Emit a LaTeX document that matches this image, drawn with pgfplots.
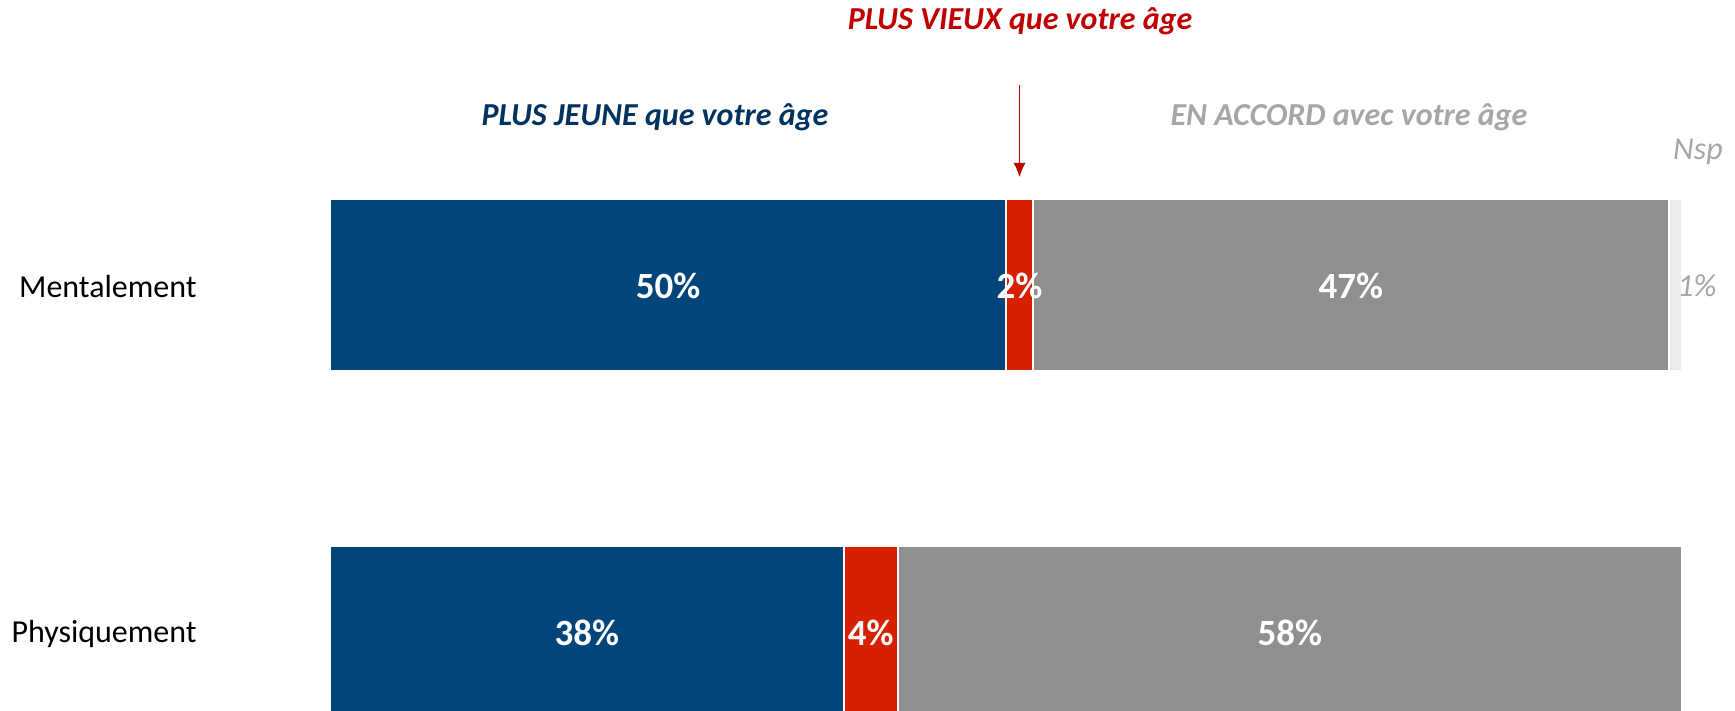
\documentclass[border=0pt]{standalone}
\usepackage{pgfplots}
\pgfplotsset{compat=1.18}
\usetikzlibrary{arrows.meta}
\usepackage{fontspec}
\setmainfont{Carlito}
\definecolor{cblue}{HTML}{02457A}
\definecolor{cred}{HTML}{D62000}
\definecolor{cgray}{HTML}{8F8F8F}
\definecolor{cnsp}{HTML}{EBEBEB}
\definecolor{tred}{HTML}{C00000}
\definecolor{tblue}{HTML}{00335F}
\definecolor{tgray}{HTML}{A6A6A6}
\pgfplotsset{
  common/.style={
    scale only axis, width=867.5pt, height=355.5pt,
    xmin=-24.408, xmax=103.92, ymin=-0.2277, ymax=1.8213,
    axis line style={draw=none}, tick style={draw=none},
    xtick=\empty,
  }
}
\begin{document}
\begin{tikzpicture}
\begin{axis}[
  common,
  xbar stacked,
  bar width=86pt,
  ytick={0,1}, yticklabels={Physiquement,Mentalement},
  yticklabel style={anchor=east, xshift=98.5pt, yshift=-1pt, inner sep=0pt, font=\fontsize{16}{19}\selectfont, text=black},
  clip mode=individual,
]
\addplot[fill=cblue, draw=white, line width=1pt] coordinates {(50,1) (38,0)};
\addplot[fill=cred, draw=white, line width=1pt] coordinates {(2,1) (4,0)};
\addplot[fill=cgray, draw=white, line width=1pt] coordinates {(47,1) (58,0)};
\addplot[fill=cnsp, draw=white, line width=1pt] coordinates {(1,1)};
\node[anchor=base, text=tred, font=\bfseries\itshape\fontsize{16}{19}\selectfont] at (axis cs:51.04,1.7349) {PLUS VIEUX que votre âge};
\node[anchor=base, text=tblue, font=\bfseries\itshape\fontsize{16}{19}\selectfont] at (axis cs:24.04,1.4582) {PLUS JEUNE que votre âge};
\node[anchor=base, text=tgray, font=\bfseries\itshape\fontsize{16}{19}\selectfont] at (axis cs:75.37,1.4582) {EN ACCORD avec votre âge};
\node[anchor=base, text=tgray, font=\itshape\fontsize{16}{19}\selectfont] at (axis cs:101.18,1.3602) {Nsp};
\draw[-{Latex[length=7pt,width=6pt]}, draw=tred, fill=tred, line width=0.6pt] (axis cs:51,1.5764) -- (axis cs:51,1.3112);
\end{axis}
\begin{axis}[
  common,
  ytick=\empty,
  clip=false,
  nodes near coords={\pgfplotspointmeta\%},
  point meta=explicit symbolic,
  every node near coord/.style={anchor=center, yshift=-0.5pt, font=\bfseries\fontsize{18.5}{22}\selectfont, text=white},
]
\addplot[only marks, mark=none] coordinates {(25,1) [50] (51,1) [2] (75.5,1) [47] (19,0) [38] (40,0) [4] (71,0) [58]};
\addplot[only marks, mark=none, every node near coord/.style={anchor=center, yshift=-0.5pt, font=\itshape\fontsize{16}{19}\selectfont, text=tgray}] coordinates {(101.1,1) [1]};
\end{axis}
\pgfresetboundingbox
\useasboundingbox (0,0) rectangle (867.5pt,355.5pt);
\end{tikzpicture}
\end{document}
